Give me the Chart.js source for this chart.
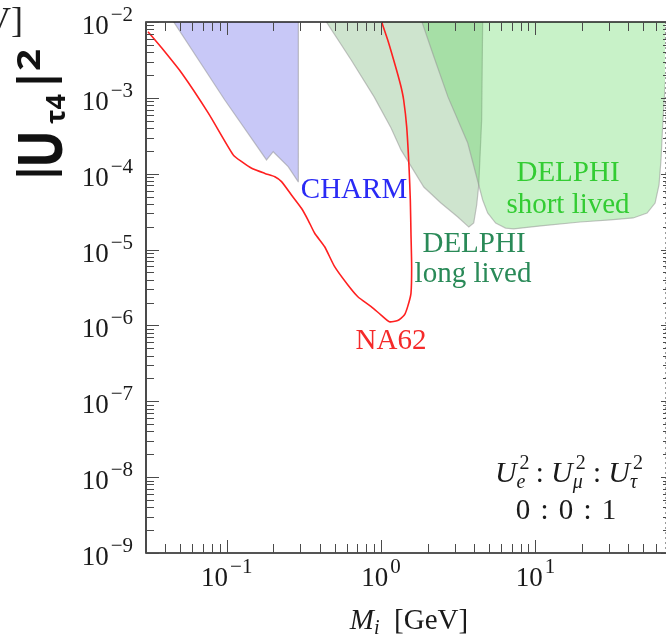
<!DOCTYPE html>
<html>
<head>
<meta charset="utf-8">
<script src="https://cdn.jsdelivr.net/npm/chart.js@4.4.1/dist/chart.umd.min.js"></script>
<style>
  html, body { margin: 0; padding: 0; background: #fff; }
</style>
</head>
<body>
<canvas id="grafica" width="666" height="638"></canvas>
<script>
// Ejes: masa M_i [GeV] (log) contra |U_tau4|^2 (log)
const rangoMasa = [0.03, 69];
const rangoU2 = [1e-9, 1e-2];
const exponentesX = [-1, 0, 1];
const exponentesY = [-9, -8, -7, -6, -5, -4, -3, -2];

// NA62 (linea roja)
const na62Masa = [0.0309, 0.0381, 0.0513, 0.0762, 0.1104, 0.125, 0.145, 0.1768, 0.205, 0.2264,
  0.2626, 0.3047, 0.3364, 0.3714, 0.4309, 0.5, 0.6094, 0.7069, 0.8621, 1.0, 1.132, 1.281, 1.414,
  1.486, 1.561, 1.577, 1.561, 1.546, 1.516, 1.464, 1.4, 1.346, 1.268, 1.189, 1.104, 1.0];
const na62U2 = [7.46e-3, 4.5e-3, 2.1e-3, 6.25e-4, 1.76e-4, 1.44e-4, 1.18e-4, 1.01e-4, 9.14e-5, 7.86e-5,
  5.24e-5, 3.5e-5, 2.45e-5, 1.64e-5, 1.09e-5, 5.95e-6, 3.41e-6, 2.39e-6, 1.77e-6, 1.37e-6, 1.12e-6, 1.16e-6, 1.37e-6,
  1.77e-6, 2.65e-6, 5.95e-6, 1.64e-5, 4.5e-5, 1.24e-4, 4.17e-4, 9.37e-4, 1.4e-3, 2.21e-3, 3.49e-3, 5.79e-3, 1.05e-2];

// CHARM (region azul)
const charmMasa = [0.044, 0.0971, 0.181, 0.2, 0.25, 0.29, 0.291, 0.044];
const charmU2 = [1.1e-2, 9.37e-4, 1.52e-4, 1.95e-4, 1.24e-4, 7.85e-5, 1.1e-2, 1.1e-2];

// DELPHI long lived
const largaMasa = [0.429, 0.64, 0.901, 1.16, 1.346, 1.89, 2.44, 3.14, 3.7, 3.98, 4.16, 4.29, 4.48, 4.55, 0.429];
const largaU2 = [1.1e-2, 3.16e-3, 1.03e-3, 4.01e-4, 2.06e-4, 6.68e-5, 4.11e-5, 2.69e-5, 1.98e-5, 2.24e-5,
  3.87e-5, 7.1e-5, 5.1e-4, 1.1e-2, 1.1e-2];

// DELPHI short lived
const cortaMasa = [1.81, 2.2, 2.71, 3.64, 4.29, 4.55, 4.9, 5.52, 6.4, 7.21, 10.8, 19.5, 30.5, 42.9, 52.8,
  59.5, 63.1, 65.0, 66.9, 69.5, 75, 75, 1.81];
const cortaU2 = [1.1e-2, 3.46e-3, 1.03e-3, 2.54e-4, 7.1e-5, 4.51e-5, 3.04e-5, 2.24e-5, 1.92e-5, 1.87e-5,
  2.05e-5, 2.31e-5, 2.46e-5, 2.61e-5, 3.03e-5, 4.11e-5, 7.1e-5, 1.52e-4, 5.1e-4, 1.72e-3, 1.1e-2, 1.1e-2, 1.1e-2];

const puntos = (xs, ys) => xs.map((v, i) => ({ x: v, y: ys[i] }));

const serif = '"Liberation Serif", "DejaVu Serif", serif';
const sans = '"Open Sans", "DejaVu Sans", sans-serif';

// texto con sub/superindices: piezas {t, f, dy, dx, avanza}
function dibujarPiezas(ctx, piezas, x, y, alinear) {
  let ancho = 0;
  piezas.forEach(p => {
    ctx.font = p.f;
    p.w = ctx.measureText(p.t).width;
    if (p.avanza !== false) ancho += p.w + (p.dx || 0);
  });
  let cx = x;
  if (alinear === 'center') cx = x - ancho / 2;
  if (alinear === 'right') cx = x - ancho;
  ctx.textAlign = 'left';
  ctx.textBaseline = 'alphabetic';
  piezas.forEach(p => {
    ctx.font = p.f;
    ctx.fillText(p.t, cx + (p.dx || 0), y + (p.dy || 0));
    if (p.avanza !== false) cx += p.w + (p.dx || 0);
  });
}

function potencia(exp) {
  const e = exp < 0 ? '\u2212' + (-exp) : String(exp);
  return [{ t: '10', f: '27px ' + serif }, { t: e, f: '21px ' + serif, dy: -13, dx: 2 }];
}

// texto girado 90 grados, centrado en yCentro, con la linea base en xBase
function textoVertical(ctx, texto, fuente, xBase, yCentro, largo) {
  ctx.save();
  ctx.font = fuente;
  const w = ctx.measureText(texto).width;
  ctx.translate(xBase, yCentro);
  ctx.rotate(-Math.PI / 2);
  if (largo) ctx.scale(largo / w, 1);
  ctx.textAlign = 'center';
  ctx.textBaseline = 'alphabetic';
  ctx.fillText(texto, 0, 0);
  ctx.restore();
}

function centrado(ctx, texto, fuente, color, x, y) {
  ctx.font = fuente;
  ctx.fillStyle = color;
  ctx.textAlign = 'center';
  ctx.textBaseline = 'alphabetic';
  ctx.fillText(texto, x, y);
}

const ejes = {
  id: 'ejes',
  afterDraw(chart) {
    const ctx = chart.ctx;
    const a = chart.chartArea;
    const sx = chart.scales.x;
    const sy = chart.scales.y;
    ctx.save();

    // etiquetas de las regiones
    centrado(ctx, 'CHARM', '29px ' + serif, '#2a2af5', 354, 198);
    centrado(ctx, 'NA62', '29px ' + serif, '#f52a2a', 391, 349);
    centrado(ctx, 'DELPHI', '29px ' + serif, '#2a8a58', 474, 252);
    centrado(ctx, 'long lived', '29px ' + serif, '#2a8a58', 473, 282);
    centrado(ctx, 'DELPHI', '29px ' + serif, '#33cc33', 568, 181);
    centrado(ctx, 'short lived', '29px ' + serif, '#33cc33', 568, 213);

    // proporciones de mezcla
    ctx.fillStyle = '#1a1a1a';
    const it = 'italic 30px ' + serif;
    const sup = '20px ' + serif;
    const sub = 'italic 20px ' + serif;
    const sep = { t: ' : ', f: '29px ' + serif, dx: 3 };
    dibujarPiezas(ctx, [
      { t: 'U', f: it }, { t: '2', f: sup, dy: -13, dx: 3, avanza: false }, { t: 'e', f: sub, dy: 6 }, sep,
      { t: 'U', f: it }, { t: '2', f: sup, dy: -13, dx: 3, avanza: false }, { t: '\u03bc', f: sub, dy: 6 }, sep,
      { t: 'U', f: it }, { t: '2', f: sup, dy: -13, dx: 3, avanza: false }, { t: '\u03c4', f: sub, dy: 6 }
    ], 566, 482, 'center');
    dibujarPiezas(ctx, [
      { t: '0', f: '29px ' + serif }, { t: ' : ', f: '29px ' + serif, dx: 3 }, { t: '0', f: '29px ' + serif, dx: 3 },
      { t: ' : ', f: '29px ' + serif, dx: 3 }, { t: '1', f: '29px ' + serif, dx: 3 }
    ], 566, 519, 'center');

    // marco
    ctx.strokeStyle = '#1e1e1e';
    ctx.lineWidth = 1.6;
    ctx.beginPath();
    ctx.moveTo(a.right + 2, a.top);
    ctx.lineTo(a.left, a.top);
    ctx.lineTo(a.left, a.bottom);
    ctx.lineTo(a.right + 2, a.bottom);
    ctx.stroke();
    ctx.strokeStyle = 'rgba(90,90,90,0.6)';
    ctx.lineWidth = 1;
    ctx.setLineDash([2, 3]);
    ctx.beginPath();
    ctx.moveTo(a.right + 0.5, a.top);
    ctx.lineTo(a.right + 0.5, a.bottom);
    ctx.stroke();
    ctx.setLineDash([]);

    // marcas menores y mayores
    ctx.strokeStyle = '#4a4a4a';
    ctx.lineWidth = 1;
    ctx.beginPath();
    for (let e = -2; e <= 1; e++) {
      for (let m = 1; m <= 9; m++) {
        const v = m * Math.pow(10, e);
        if (v < rangoMasa[0] || v > rangoMasa[1]) continue;
        const px = Math.round(sx.getPixelForValue(v)) + 0.5;
        const l = m === 1 ? 13 : 9;
        ctx.moveTo(px, a.bottom); ctx.lineTo(px, a.bottom - l);
        ctx.moveTo(px, a.top); ctx.lineTo(px, a.top + l);
      }
    }
    for (let e = -9; e <= -2; e++) {
      for (let m = 1; m <= 9; m++) {
        const v = m * Math.pow(10, e);
        if (v < rangoU2[0] || v > rangoU2[1] * 1.0001) continue;
        const py = Math.round(sy.getPixelForValue(v)) + 0.5;
        const l = m === 1 ? 13 : 8;
        ctx.moveTo(a.left, py); ctx.lineTo(a.left + l, py);
        ctx.moveTo(a.right + 1, py); ctx.lineTo(a.right - (m === 1 ? 4 : 2), py);
      }
    }
    ctx.stroke();

    // etiquetas de los ejes
    ctx.fillStyle = '#1a1a1a';
    exponentesX.forEach(e => {
      dibujarPiezas(ctx, potencia(e), sx.getPixelForValue(Math.pow(10, e)), a.bottom + 33, 'center');
    });
    exponentesY.forEach(e => {
      dibujarPiezas(ctx, potencia(e), 133, sy.getPixelForValue(Math.pow(10, e)) + 12, 'right');
    });

    dibujarPiezas(ctx, [
      { t: 'M', f: 'italic 29px ' + serif }, { t: 'i', f: 'italic 20px ' + serif, dy: 5 },
      { t: '  [GeV]', f: '29px ' + serif }
    ], 409, 629, 'center');

    // titulo del eje y
    ctx.fillStyle = '#111';
    textoVertical(ctx, '|', 'bold 46px ' + sans, 52, 173);
    textoVertical(ctx, 'U', 'bold 60px ' + sans, 62, 149, 38);
    textoVertical(ctx, '\u03c44', 'bold 26px ' + sans, 65, 109, 30);
    textoVertical(ctx, '|', 'bold 46px ' + sans, 52, 80);
    textoVertical(ctx, '2', 'bold 32px ' + sans, 40, 60, 22);

    ctx.fillStyle = '#222';
    ctx.font = '36px ' + serif;
    ctx.textAlign = 'right';
    ctx.fillText('V]', 23, 32);
    ctx.restore();
  }
};

const region = (datos, relleno, orden) => ({
  data: datos,
  showLine: true,
  fill: 'shape',
  backgroundColor: relleno,
  borderColor: 'rgba(150,150,150,0.55)',
  borderWidth: 1.2,
  pointRadius: 0,
  tension: 0,
  order: orden
});

new Chart(document.getElementById('grafica'), {
  type: 'scatter',
  data: {
    datasets: [
      {
        label: 'NA62',
        data: puntos(na62Masa, na62U2),
        showLine: true,
        fill: false,
        borderColor: '#ff2020',
        borderWidth: 1.6,
        pointRadius: 0,
        tension: 0.2,
        order: 0
      },
      Object.assign(region(puntos(cortaMasa, cortaU2), 'rgba(72,212,72,0.3)', 1), { label: 'DELPHI short lived' }),
      Object.assign(region(puntos(largaMasa, largaU2), 'rgb(206,228,206)', 2), { label: 'DELPHI long lived' }),
      Object.assign(region(puntos(charmMasa, charmU2), 'rgb(200,200,247)', 3), { label: 'CHARM' })
    ]
  },
  options: {
    responsive: false,
    animation: false,
    layout: { padding: { left: 146, right: 1, top: 22, bottom: 85 } },
    plugins: { legend: { display: false }, tooltip: { enabled: false } },
    scales: {
      x: { type: 'logarithmic', min: rangoMasa[0], max: rangoMasa[1], display: false },
      y: { type: 'logarithmic', min: rangoU2[0], max: rangoU2[1], display: false }
    }
  },
  plugins: [ejes]
});
</script>
</body>
</html>
